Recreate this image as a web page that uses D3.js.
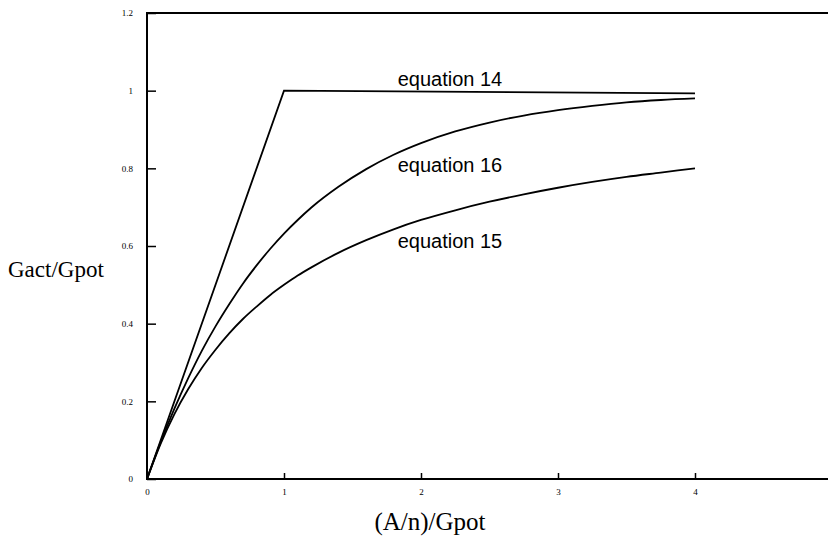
<!DOCTYPE html>
<html>
<head>
<meta charset="utf-8">
<script src="https://cdn.jsdelivr.net/npm/d3@7"></script>
<style>
  body { margin: 0; background: #fff; }
</style>
</head>
<body>
<svg id="chart" width="828" height="546"></svg>
<script>
// values
const xTicks = [0, 1, 2, 3, 4];
const yTicks = [0, 0.2, 0.4, 0.6, 0.8, 1, 1.2];

const eq14X = [0, 1, 4];
const eq14Y = [0, 1, 0.993];

const curveX = [0, 0.1, 0.2, 0.3, 0.4, 0.5, 0.6, 0.7, 0.8, 0.9, 1, 1.1, 1.2, 1.4, 1.6, 1.8, 2, 2.25, 2.5, 2.75, 3, 3.25, 3.5, 3.75, 4];
const eq16Y = [0, 0.095, 0.181, 0.259, 0.33, 0.393, 0.45, 0.503, 0.55, 0.593, 0.632, 0.667, 0.699, 0.753, 0.798, 0.835, 0.865, 0.895, 0.918, 0.936, 0.95, 0.961, 0.97, 0.976, 0.98];
const eq15Y = [0, 0.091, 0.167, 0.231, 0.286, 0.333, 0.375, 0.412, 0.444, 0.474, 0.5, 0.524, 0.545, 0.583, 0.615, 0.643, 0.667, 0.692, 0.714, 0.733, 0.75, 0.765, 0.778, 0.789, 0.8];

const labels = [
  { text: 'equation 14', x: 1.83, y: 1.012 },
  { text: 'equation 16', x: 1.83, y: 0.79 },
  { text: 'equation 15', x: 1.83, y: 0.595 }
];

const svg = d3.select('#chart');

const x = d3.scaleLinear().domain([0, 5]).range([147, 832]);
const y = d3.scaleLinear().domain([0, 1.2]).range([479, 13]);

// frame: top, left, bottom
svg.append('path')
  .attr('d', `M${x(5)},${y(1.2)}H${x(0)}V${y(0)}H${x(5)}`)
  .attr('fill', 'none')
  .attr('stroke', '#000')
  .attr('stroke-width', 2);

// y axis, ticks pointing inward
const yAxis = svg.append('g')
  .attr('transform', `translate(${x(0)},0)`)
  .call(d3.axisLeft(y).tickValues(yTicks).tickSizeInner(-9).tickSizeOuter(0).tickPadding(14)
    .tickFormat(d => d === 0 ? '0' : d3.format('~g')(d)));

// x axis, ticks pointing inward
const xAxis = svg.append('g')
  .attr('transform', `translate(0,${y(0)})`)
  .call(d3.axisBottom(x).tickValues(xTicks).tickSizeInner(-6).tickSizeOuter(0).tickPadding(10)
    .tickFormat(d3.format('d')));

[xAxis, yAxis].forEach(g => {
  g.select('.domain').remove();
  g.selectAll('.tick line').attr('stroke', '#000').attr('stroke-width', 1.5);
  g.selectAll('.tick text')
    .attr('font-family', 'Liberation Serif, serif')
    .attr('font-size', 9)
    .attr('fill', '#000');
});

// curves
const line = d3.line()
  .x(d => x(d[0]))
  .y(d => y(d[1]));

const series = [
  { pts: d3.zip(eq14X, eq14Y), curve: d3.curveLinear },
  { pts: d3.zip(curveX, eq16Y), curve: d3.curveMonotoneX },
  { pts: d3.zip(curveX, eq15Y), curve: d3.curveMonotoneX }
];

svg.selectAll('.series')
  .data(series)
  .enter()
  .append('path')
  .attr('class', 'series')
  .attr('d', d => line.curve(d.curve)(d.pts))
  .attr('fill', 'none')
  .attr('stroke', '#000')
  .attr('stroke-width', 1.8);

// curve labels
svg.selectAll('.lbl')
  .data(labels)
  .enter()
  .append('text')
  .attr('class', 'lbl')
  .attr('x', d => x(d.x))
  .attr('y', d => y(d.y))
  .attr('font-family', 'Liberation Sans, Arial, sans-serif')
  .attr('font-size', 20)
  .text(d => d.text);

// axis titles
svg.append('text')
  .attr('x', 8)
  .attr('y', 277)
  .attr('font-family', 'Liberation Serif, serif')
  .attr('font-size', 23)
  .text('Gact/Gpot');

svg.append('text')
  .attr('x', 430)
  .attr('y', 530)
  .attr('text-anchor', 'middle')
  .attr('font-family', 'Liberation Serif, serif')
  .attr('font-size', 25)
  .text('(A/n)/Gpot');
</script>
</body>
</html>
